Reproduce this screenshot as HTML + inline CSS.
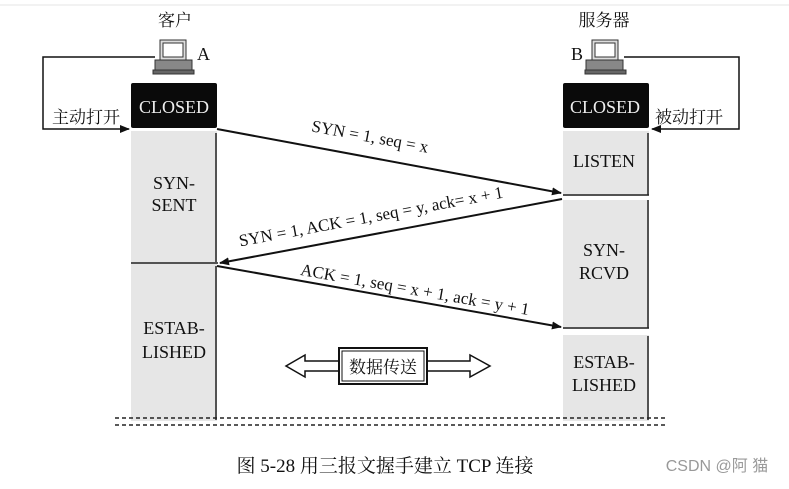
<!DOCTYPE html>
<html><head><meta charset="utf-8"><style>
body{margin:0;background:#fff;}
svg text{font-family:"Liberation Serif","Noto Serif CJK SC",serif;fill:#111;}
</style></head><body>
<svg width="789" height="484" viewBox="0 0 789 484" xmlns="http://www.w3.org/2000/svg">
<defs>
<marker id="ah" markerWidth="10" markerHeight="8" refX="9" refY="4" orient="auto" markerUnits="userSpaceOnUse"><path d="M0,0 L10,4 L0,8 z" fill="#111"/></marker>
</defs>
<line x1="0" y1="5" x2="789" y2="5" stroke="#e4e4e4"/>
<text x="175" y="26" font-size="17" text-anchor="middle">客户</text>
<text x="604" y="26" font-size="17" text-anchor="middle">服务器</text>
<g stroke="#333" fill="#ddd">
<rect x="160" y="40" width="26" height="20"/><rect x="163" y="43" width="20" height="14" fill="#fff"/>
<rect x="155" y="60" width="37" height="10" fill="#888"/><rect x="153" y="70" width="41" height="4" fill="#666"/>
<rect x="592" y="40" width="26" height="20"/><rect x="595" y="43" width="20" height="14" fill="#fff"/>
<rect x="586" y="60" width="37" height="10" fill="#888"/><rect x="585" y="70" width="41" height="4" fill="#666"/>
</g>
<text x="197" y="60" font-size="18">A</text>
<text x="571" y="60" font-size="18">B</text>
<polyline points="155,57 43,57 43,129 129,129" fill="none" stroke="#111" stroke-width="1.5" marker-end="url(#ah)"/>
<polyline points="624,57 739,57 739,129 652,129" fill="none" stroke="#111" stroke-width="1.5" marker-end="url(#ah)"/>
<text x="52" y="123" font-size="17">主动打开</text>
<text x="655" y="123" font-size="17">被动打开</text>
<rect x="131" y="83" width="86" height="45" fill="#0a0a0a" rx="2"/>
<text x="174" y="113" font-size="18" text-anchor="middle" style="fill:#eee">CLOSED</text>
<rect x="131" y="131" width="86" height="290" fill="#e6e6e6"/>
<line x1="216" y1="133" x2="216" y2="262" stroke="#222" stroke-width="1.5"/>
<line x1="131" y1="263" x2="218" y2="263" stroke="#222" stroke-width="1.5"/>
<line x1="216" y1="266" x2="216" y2="420" stroke="#222" stroke-width="1.5"/>
<text x="174" y="189" font-size="18" text-anchor="middle">SYN-</text>
<text x="174" y="211" font-size="18" text-anchor="middle">SENT</text>
<text x="174" y="334" font-size="18" text-anchor="middle">ESTAB-</text>
<text x="174" y="358" font-size="18" text-anchor="middle">LISHED</text>
<rect x="563" y="83" width="86" height="45" fill="#0a0a0a" rx="2"/>
<text x="605" y="113" font-size="18" text-anchor="middle" style="fill:#eee">CLOSED</text>
<rect x="563" y="131" width="86" height="290" fill="#e6e6e6"/>
<rect x="563" y="196" width="86" height="4" fill="#fff"/>
<rect x="563" y="329" width="86" height="6" fill="#fff"/>
<line x1="648" y1="133" x2="648" y2="195" stroke="#222" stroke-width="1.5"/>
<line x1="563" y1="195" x2="649" y2="195" stroke="#222" stroke-width="1.5"/>
<line x1="648" y1="200" x2="648" y2="328" stroke="#222" stroke-width="1.5"/>
<line x1="563" y1="328" x2="649" y2="328" stroke="#222" stroke-width="1.5"/>
<line x1="648" y1="336" x2="648" y2="420" stroke="#222" stroke-width="1.5"/>
<text x="604" y="167" font-size="18" text-anchor="middle">LISTEN</text>
<text x="604" y="256" font-size="18" text-anchor="middle">SYN-</text>
<text x="604" y="279" font-size="18" text-anchor="middle">RCVD</text>
<text x="604" y="368" font-size="18" text-anchor="middle">ESTAB-</text>
<text x="604" y="391" font-size="18" text-anchor="middle">LISHED</text>
<line x1="217" y1="129" x2="561" y2="193" stroke="#111" stroke-width="2" marker-end="url(#ah)"/>
<line x1="562" y1="199" x2="220" y2="263" stroke="#111" stroke-width="2" marker-end="url(#ah)"/>
<line x1="217" y1="266" x2="561" y2="327" stroke="#111" stroke-width="2" marker-end="url(#ah)"/>
<text font-size="17" text-anchor="middle" transform="translate(369,142) rotate(10.5)">SYN = 1, seq = x</text>
<text font-size="17" text-anchor="middle" transform="translate(372,222) rotate(-10.5)">SYN = 1, ACK = 1, seq = y, ack= x + 1</text>
<text font-size="17" text-anchor="middle" transform="translate(414,295) rotate(10)">ACK = 1, seq = x + 1, ack = y + 1</text>
<path d="M340,361 L305,361 L305,355 L286,366 L305,377 L305,371 L340,371" fill="#fff" stroke="#111" stroke-width="1.5"/>
<path d="M427,361 L470,361 L470,355 L490,366 L470,377 L470,371 L427,371" fill="#fff" stroke="#111" stroke-width="1.5"/>
<rect x="339" y="348" width="88" height="36" fill="#fff" stroke="#111" stroke-width="2"/>
<rect x="342" y="351" width="82" height="30" fill="none" stroke="#111" stroke-width="1"/>
<text x="383" y="373" font-size="17" text-anchor="middle">数据传送</text>
<line x1="115" y1="418" x2="665" y2="418" stroke="#222" stroke-width="1.5" stroke-dasharray="4,3"/>
<line x1="115" y1="425" x2="665" y2="425" stroke="#222" stroke-width="1.5" stroke-dasharray="4,3"/>
<text x="385" y="472" font-size="19" text-anchor="middle">图 5-28 用三报文握手建立 TCP 连接</text>
<text x="717" y="471" font-size="16" text-anchor="middle" style="font-family:'Liberation Sans','Noto Sans CJK SC',sans-serif;fill:#999">CSDN @阿 猫</text>
</svg>
</body></html>
